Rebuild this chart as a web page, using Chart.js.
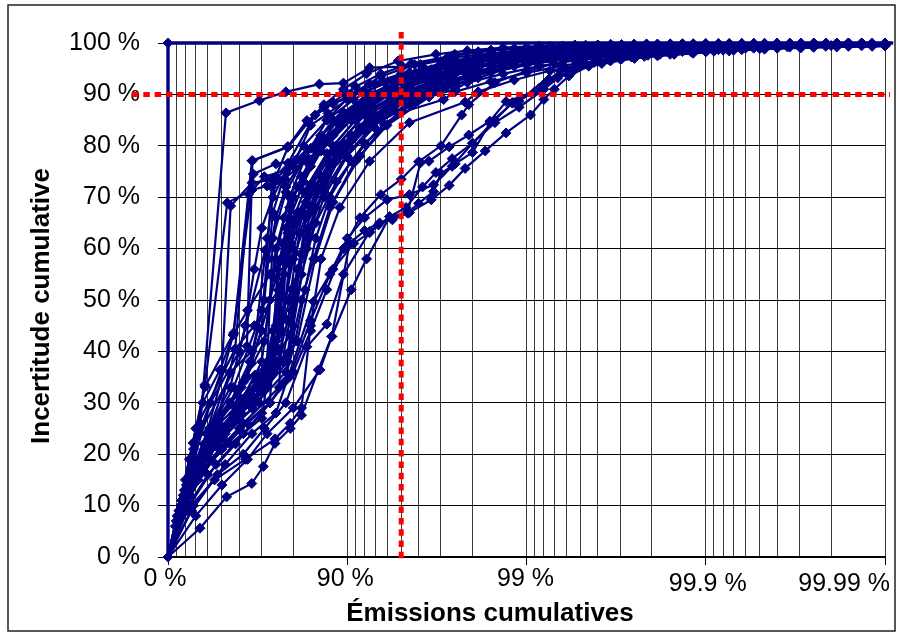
<!DOCTYPE html>
<html>
<head>
<meta charset="utf-8">
<script src="https://cdn.jsdelivr.net/npm/chart.js@4.4.1/dist/chart.umd.min.js"></script>
<style>
html,body{margin:0;padding:0;background:#fff;}
canvas{display:block;}
</style>
</head>
<body>
<canvas id="c" width="898" height="634"></canvas>
<script>
// ---- Data: [cumulative emissions %, cumulative uncertainty %] ----
const xTickValues = [0, 90, 99, 99.9, 99.99];
const xTickLabels = ['0 %', '90 %', '99 %', '99.9 %', '99.99 %'];
const yTitle = 'Incertitude cumulative';
const xTitle = 'Émissions cumulatives';
const refEmission = 95;      // vertical red dotted line
const refUncertainty = 90;   // horizontal red dotted line

// emission positions (%) where the tails of the curves have their points
const tailGridA = [97.49, 98.42, 99.0, 99.37, 99.6, 99.749, 99.842, 99.9, 99.937, 99.96, 99.975, 99.984, 99.99];
const tailGridB = [97.86, 98.65, 99.149, 99.463, 99.661, 99.786, 99.865, 99.915, 99.946, 99.966, 99.9786, 99.9865, 99.99];
const tailGridC = [98.14, 98.83, 99.26, 99.532, 99.705, 99.814, 99.8825, 99.926, 99.953, 99.9705, 99.9814, 99.9882, 99.99];

const idealSeries = [[0,0],[0,100],[99.991,100]];

// heads: [emission %, uncertainty %] ; tails: uncertainty % at the tail grid positions
const headA1 = [[0,0],[34,26],[52.5,86.4],[69,88.8],[78,90.5],[85.7,92],[89.5,92.2],[92.5,95.2],[95.1,95.4],[96.1,95.8]];
const tailA1 = [97.2,98.0,98.6,99.0,99.3,99.5,99.62,99.72,99.8,99.86,99.9,99.93,99.95];
const headA2 = [[0,0],[27.5,22.2],[37.8,33.1],[57,43.6],[66,77.1],[78.5,79.8],[83.2,84.9],[88,88.2],[92,90.6],[95,93.2],[97,95.5]];
const tailA2 = [96.6,97.6,98.3,98.8,99.15,99.4,99.55,99.66,99.75,99.82,99.87,99.9,99.93];
const headA3 = [[0,0],[20,15],[37.8,33.5],[53.3,68.9],[66,71.4],[72,72.2],[77,73.3],[83,77],[88,82],[92.5,88],[95.5,92],[97.5,95]];
const tailA3 = [96.4,97.5,98.3,98.9,99.25,99.45,99.6,99.7,99.78,99.84,99.88,99.91,99.93];
const headA4 = [[0,0],[28,21],[49.9,36.4],[55.3,68.3],[66,72.8],[73.7,73.4],[80,76],[86,81],[91,86],[94.5,90.5],[96.5,93.5]];
const tailA4 = [95.2,96.8,97.8,98.4,98.9,99.2,99.42,99.58,99.68,99.76,99.82,99.86,99.9];
const headA5 = [[0,0],[30,25],[57.8,40.5],[64.5,70.6],[71,74],[77.8,75.2],[84,79.5],[89,84],[93,89],[96,93]];
const tailA5 = [95.8,97.2,98.1,98.7,99.1,99.35,99.52,99.65,99.74,99.8,99.85,99.89,99.92];
const headA6 = [[0,0],[33,24],[63.7,41],[66.2,77.1],[78.5,79.7],[83.5,84.6],[86.5,87.5],[90,89.5],[93,92],[95.5,94.3],[97.5,96.3]];
const tailA6 = [97.4,98.3,98.9,99.3,99.52,99.66,99.76,99.83,99.88,99.92,99.94,99.96,99.97];
const headA7 = [[0,0],[20,13],[42,30],[60,40],[71.3,59.7],[76.9,61],[81,66],[85,72],[89,79],[92.5,85],[95.5,90],[96.9,92.4]];
const tailA7 = [94.0,95.9,97.2,98.0,98.6,99.0,99.3,99.5,99.62,99.72,99.79,99.84,99.88];
const headA8 = [[0,0],[24,19],[36,30],[48.7,36.4],[56.7,43.2],[66.6,74.5],[75,76.5],[80.6,77.2],[86,82],[91,87.5],[94.5,91.8],[97.2,95.2]];
const tailA8 = [96.2,97.6,98.5,99.0,99.3,99.5,99.64,99.74,99.81,99.86,99.9,99.93,99.95];

const headB1 = [[0,0],[15,9],[35,17],[55,22],[70,27],[76,50],[79,66],[84,76],[89,84],[93,90],[96,94],[97.6,96]];
const tailB1 = [97.3,98.2,98.8,99.2,99.45,99.62,99.74,99.82,99.87,99.91,99.93,99.95,99.96];
const headB2 = [[0,0],[20,10],[42,19],[60,25],[73,30],[75.5,56],[80,70],[86,80],[91,87],[94.5,91.5],[96.6,94.6]];
const tailB2 = [96.3,97.7,98.5,99.0,99.35,99.55,99.68,99.77,99.84,99.88,99.91,99.94,99.96];
const headB3 = [[0,0],[12,8],[30,16],[50,24],[65,32],[72,38],[74,62],[78,71],[83,78],[88,85],[92.5,90],[95.5,93.5],[97.2,95.8]];
const tailB3 = [96.9,98.0,98.7,99.15,99.42,99.6,99.72,99.8,99.86,99.9,99.93,99.95,99.96];
const headB4 = [[0,0],[25,12],[48,21],[62,26],[76,33],[78,58],[81,67],[86,74],[90.5,82],[94,88],[96.5,92],[97.9,94.5]];
const tailB4 = [95.6,97.0,98.0,98.6,99.0,99.28,99.48,99.62,99.72,99.8,99.85,99.89,99.92];
const headB5 = [[0,0],[18,11],[38,20],[58,28],[68,34],[77,44],[79.5,61],[84,72],[88.5,80],[92.5,87],[95.5,91.5],[96.9,93.8]];
const tailB5 = [95.5,97.1,98.1,98.7,99.1,99.35,99.52,99.65,99.74,99.8,99.85,99.88,99.91];
const headB6 = [[0,0],[22,14],[45,25],[63,31],[74,37],[76.5,48],[78,64],[82.5,73],[87,81],[91.5,88],[95,92.5],[97.3,95.6]];
const tailB6 = [96.8,98.0,98.75,99.2,99.5,99.66,99.77,99.84,99.89,99.92,99.94,99.96,99.97];
const headB7 = [[0,0],[10,7],[28,15],[47,22],[66,29],[78,36],[80.5,52],[83,66],[87.5,76],[92,84],[95,89.5],[97.3,93.8]];
const tailB7 = [95.2,96.8,97.9,98.55,98.95,99.25,99.45,99.6,99.7,99.78,99.84,99.88,99.91];
const headB8 = [[0,0],[30,16],[52,24],[69,30],[75,42],[77.5,55],[80,70],[85,79],[90,86],[94,91],[96.8,94.5]];
const tailB8 = [96.6,97.9,98.7,99.15,99.45,99.62,99.74,99.82,99.87,99.91,99.94,99.96,99.97];
const headB9 = [[0,0],[16,10],[36,19],[56,26],[71,33],[79,40],[81.5,56],[85,68],[89,78],[92.5,85],[95.5,90.5],[97.3,93.6]];
const tailB9 = [95.0,96.8,97.9,98.6,99.05,99.32,99.5,99.63,99.72,99.79,99.84,99.88,99.91];
const headB10 = [[0,0],[24,13],[44,22],[64,30],[72,36],[76,52],[79,62],[83.5,71],[88,79],[92,86],[95.2,91],[97.6,95]];
const tailB10 = [96.2,97.6,98.5,99.0,99.3,99.5,99.64,99.74,99.81,99.86,99.9,99.93,99.95];
const headB11 = [[0,0],[14,9],[33,18],[54,26],[67,31],[74,36],[77,47],[80,58],[84,68],[88.5,77],[92.5,84],[95.5,89.5],[97,91.5]];
const tailB11 = [92.8,94.6,96.0,97.1,97.8,98.35,98.75,99.05,99.25,99.42,99.53,99.62,99.7];
const headB12 = [[0,0],[20,12],[40,21],[58,27],[70,32],[78.5,38],[82,50],[84.6,58],[87.5,68],[91,77],[94,84],[96.5,89.5],[97.5,91]];
const tailB12 = [92.3,94.0,95.5,96.6,97.3,97.9,98.35,98.7,99.0,99.2,99.35,99.45,99.55];
const headB13 = [[0,0],[26,15],[46,24],[61,30],[70,38],[73,50],[75,58],[77.5,66],[81,72],[86,79],[90.5,85],[94,90],[96.8,94]];
const tailB13 = [96.4,97.8,98.6,99.1,99.4,99.58,99.7,99.79,99.85,99.9,99.93,99.95,99.96];
const headB14 = [[0,0],[11,8],[31,17],[51,23],[65.9,37.7],[75,54.2],[78.5,63],[82.5,71],[87,78.5],[91,85],[94.5,89.5],[96.8,93]];
const tailB14 = [94.8,96.7,97.9,98.6,99.05,99.32,99.5,99.63,99.72,99.79,99.84,99.88,99.91];
const headB15 = [[0,0],[22,13],[43,22],[57.8,40.4],[67,45],[75.8,51.9],[79,60],[83,69],[87.5,77],[91.5,83.5],[94.8,89],[97.3,93.2]];
const tailB15 = [94.6,96.6,97.8,98.5,98.95,99.25,99.45,99.6,99.7,99.77,99.82,99.86,99.89];
const headB16 = [[0,0],[18,12],[37,22],[56.7,43.2],[64,48],[73,55],[76.3,57.5],[81,66],[86,74],[90.5,81],[94,87],[96.8,91.8]];
const tailB16 = [94.4,96.4,97.7,98.45,98.95,99.28,99.5,99.64,99.74,99.81,99.86,99.9,99.92];
const headB17 = [[0,0],[27,14],[49,23],[67.3,35.4],[76,40],[79.2,43.2],[82,55],[85,65],[88.5,73],[92,80.5],[95,86.5],[97.1,89]];
const tailB17 = [90.5,92.5,94.2,95.6,96.6,97.3,97.8,98.3,98.7,99.0,99.2,99.35,99.45];
const headB18 = [[0,0],[15,10],[32,19],[54.9,35.9],[66,40],[75,45],[79.5,52],[83.2,60],[86.5,70],[90,78],[93.5,85],[96.3,90],[97.5,92.4]];
const tailB18 = [93.8,96.0,97.4,98.2,98.75,99.1,99.35,99.52,99.64,99.73,99.8,99.85,99.88];
const headB19 = [[0,0],[21,9],[45,15],[63,19],[74.7,23],[79.2,26],[82,29],[84,45],[86,58],[89,68],[92.5,77],[95.5,84.5],[97.8,88.5]];
const tailB19 = [90.5,92.8,94.6,96.0,96.9,97.5,98.0,98.45,98.8,99.05,99.22,99.35,99.45];

const headD1 = [[0,0],[20,12],[42,22],[60,28],[72,34],[80,45],[83.5,62],[86.5,72],[89.5,79],[92.5,85],[94.8,88.6],[96.2,90.2],[97.2,91.5]];
const tailD1 = [92.6,94.3,95.7,96.8,97.5,98.05,98.5,98.85,99.1,99.3,99.42,99.52,99.6];
const headD2 = [[0,0],[16,11],[39,21],[59,29],[73,36],[81,42],[84.9,58],[88,69],[91.5,78],[93.8,84],[95.8,88.6],[97.4,92]];
const tailD2 = [93.4,95.6,97.1,98.0,98.6,99.0,99.28,99.47,99.6,99.7,99.77,99.82,99.86];
const headD3 = [[0,0],[24,14],[47,24],[65,31],[75,40],[79,50],[81.5,63],[85,71],[88.5,78],[92,83],[94.7,86.5],[96.5,89.5],[97.9,93]];
const tailD3 = [94.2,96.3,97.6,98.4,98.9,99.22,99.45,99.6,99.7,99.78,99.84,99.88,99.91];
const headE1 = [[0,0],[22,14],[45,26],[62,34],[70,44],[73.6,72],[77.8,73.5],[80.5,77],[84,84],[87.2,86.3],[90,89],[92.5,92],[95,94],[97,96]];
const tailE1 = [97.6,98.5,99.05,99.4,99.6,99.73,99.81,99.87,99.91,99.94,99.96,99.97,99.98];
const headE2 = [[0,0],[18,12],[40,24],[57,33],[68,45],[72,62],[75,74],[78.6,79.8],[83.5,84.6],[86.5,88],[89.5,91],[92.2,94],[94.8,96.5],[96.8,97.8]];
const tailE2 = [98.5,99.1,99.42,99.62,99.74,99.82,99.87,99.91,99.935,99.95,99.96,99.97,99.98];
const headE3 = [[0,0],[26,15],[48,26],[64,35],[71,50],[74,67],[78.6,76.6],[84.9,86],[88,88.5],[91,91.5],[93.5,94],[95.6,96],[97.4,97.5]];
const tailE3 = [98.3,98.95,99.35,99.58,99.72,99.81,99.87,99.91,99.94,99.96,99.97,99.98,99.985];
const headF1 = [[0,0],[19,13],[41,25],[61,33],[71,42],[75,60],[79,70],[83,78],[87,85],[90.5,90],[93.5,93.5],[95.8,95.8],[97.2,97.0]];
const tailF1 = [97.8,98.6,99.1,99.42,99.62,99.75,99.83,99.88,99.92,99.94,99.96,99.97,99.98];

const headG1 = [[0,0],[13,9],[29,18],[46,26],[60,31],[70,34],[74,44],[76.5,58],[79,68],[82,74],[85.5,80],[89,85.5],[92,89],[94.6,92.2],[96.6,94.8]];
const tailG1 = [96.2,97.6,98.4,98.95,99.3,99.52,99.66,99.76,99.83,99.88,99.91,99.94,99.96];
const headG2 = [[0,0],[17,10],[35,18],[52,25],[66,30],[73,36],[76,46],[78,57],[80.5,65],[84,72.5],[88,80],[91.5,86],[94.2,90],[96.3,93],[97.5,94.8]];
const tailG2 = [95.9,97.4,98.3,98.85,99.2,99.45,99.6,99.72,99.8,99.86,99.9,99.93,99.95];
const headG3 = [[0,0],[23,13],[41,21],[58,29],[69,35],[75,41],[78,50],[80,60],[82.5,67],[86,74],[89.5,80.5],[92.8,86.5],[95.3,90.5],[97.2,93.4],[98,94.6]];
const tailG3 = [95.6,97.1,98.1,98.7,99.1,99.37,99.55,99.67,99.76,99.83,99.88,99.91,99.93];
const headG4 = [[0,0],[9,6],[24,14],[41,22],[57,28],[68,33],[75.5,38],[78.5,46],[81,56],[83.5,64],[86.5,71],[89.8,78],[92.8,84],[95.2,88.5],[97,91.6]];
const tailG4 = [92.9,95.0,96.5,97.5,98.2,98.7,99.05,99.3,99.48,99.6,99.7,99.77,99.82];
const headG5 = [[0,0],[19,12],[38,22],[55,30],[65,38],[70,48],[72.5,58],[75,66],[78,72],[82,77],[86,82],[89.5,86.5],[92.5,90],[95,93],[97.2,95.6]];
const tailG5 = [96.8,98.0,98.75,99.2,99.5,99.67,99.78,99.85,99.9,99.93,99.95,99.96,99.97];
const headG6 = [[0,0],[14,8],[32,15],[50,21],[64,26],[73,30],[77.5,34],[80.5,42],[82.8,52],[85,62],[87.5,70],[90.5,77],[93.2,83],[95.5,88],[97.5,91.8]];
const tailG6 = [93.2,95.5,97.0,97.9,98.5,98.9,99.18,99.38,99.53,99.64,99.72,99.78,99.83];
const headG7 = [[0,0],[21,14],[39,24],[55,33],[63,45],[67,56],[70,64],[74,70],[78,75],[82.5,80],[87,85],[90.8,89],[93.8,92.3],[96.3,95]];
const tailG7 = [96.5,97.8,98.6,99.1,99.4,99.6,99.72,99.8,99.86,99.9,99.93,99.95,99.96];
const headG8 = [[0,0],[25,14],[44,22],[61,28],[72,33],[77,38],[79.5,48],[81.8,59],[84,67],[87,74],[90.2,80],[93,85.5],[95.4,89.5],[97.3,92.6]];
const tailG8 = [93.8,95.9,97.3,98.2,98.75,99.1,99.35,99.52,99.64,99.73,99.8,99.85,99.88];

// curves with their own full list of points (slow-rising ones)
const seriesC1 = [[0,0],[30,8],[50,14],[64,19],[72,24],[80,29],[85.8,36.4],[87.8,42.9],[90.5,52],[92.2,58],[94.2,66.2],[95.4,66.9],[96,68.8],[96.7,71.1],[97,74.6],[97.5,76.5],[98,78.7],[98.4,84.4],[98.8,88.3],[98.9,88.7],[99.15,91.2],[99.35,94.5],[99.5,95.6],[99.6,96.4],[99.7,96.9],[99.78,97.4],[99.85,97.9],[99.9,98.3],[99.93,98.6],[99.96,99],[99.975,99.2],[99.99,99.4]];
const seriesC2 = [[0,0],[26,9],[47,16],[62,20],[71,25],[78,30],[83.2,40.9],[87,45.3],[89.5,55],[92.5,63.3],[93.3,64.6],[94.3,65.9],[95.4,67.2],[96.1,76.7],[96.5,77],[97.3,79.8],[97.9,82.1],[98.4,84.8],[98.7,88.6],[99.1,90.5],[99.25,93],[99.4,95],[99.52,96],[99.65,96.8],[99.74,97.3],[99.82,97.9],[99.88,98.4],[99.92,98.8],[99.95,99.1],[99.97,99.35],[99.98,99.5],[99.99,99.6]];
const seriesC3 = [[0,0],[33.7,5.6],[52.9,11.7],[65.9,14.3],[70.6,17.6],[74.7,22.1],[79.2,25],[82,27.6],[85.5,36.4],[87.8,42.9],[90.3,61],[92,63.5],[93.4,65],[94.4,65.6],[95.5,67],[96.6,69.5],[97.3,72.3],[97.8,75.6],[98.3,79],[98.7,82.5],[99.05,86],[99.2,89],[99.3,91],[99.42,93.6],[99.55,95.5],[99.66,96.5],[99.75,97.2],[99.82,97.8],[99.88,98.2],[99.92,98.6],[99.95,99],[99.97,99.25],[99.99,99.5]];
const seriesC4 = [[0,0],[28,10],[52,18],[66,24],[75,28],[84.6,49.7],[88,56],[90.8,61],[92.5,63.1],[94.2,66.2],[95.3,68],[96.2,72],[96.8,74.8],[97.4,77.5],[98,80.5],[98.5,84.5],[98.9,87.5],[99.2,91],[99.33,93.2],[99.45,95],[99.58,96.2],[99.7,97],[99.79,97.6],[99.85,98.1],[99.9,98.6],[99.94,99],[99.965,99.25],[99.99,99.5]];
const seriesH1 = [[0,0],[24,10],[46,18],[62,24],[73,30],[80,36],[84,44],[87,52],[89.5,60],[91.5,66],[93.5,70.5],[95,73.5],[96,76.9],[97,80],[97.7,86],[97.9,88],[98.5,92.3],[99.0,94.5],[99.3,96],[99.5,97],[99.65,97.6],[99.78,98.2],[99.86,98.6],[99.92,99],[99.95,99.25],[99.975,99.45],[99.99,99.6]];
const seriesH2 = [[0,0],[20,9],[40,16],[58,22],[70,28],[79,35],[84,46],[87.5,55],[90,62],[92,66],[94,69.5],[95.5,70.5],[96.7,72.4],[97.4,76],[98,80.5],[98.5,85],[98.8,88.4],[99.2,92],[99.45,94.5],[99.62,96],[99.75,97],[99.85,97.8],[99.91,98.4],[99.95,98.9],[99.975,99.2],[99.99,99.45]];

// ---- Build chart ----
const join = (head, grid, tail) => head.concat(grid.map((e, i) => [e, tail[i]]));
const allSeries = [
  join(headA1, tailGridA, tailA1), join(headA2, tailGridB, tailA2), join(headA3, tailGridC, tailA3),
  join(headA4, tailGridA, tailA4), join(headA5, tailGridB, tailA5), join(headA6, tailGridC, tailA6),
  join(headA7, tailGridA, tailA7), join(headA8, tailGridB, tailA8),
  join(headB1, tailGridC, tailB1), join(headB2, tailGridA, tailB2), join(headB3, tailGridB, tailB3),
  join(headB4, tailGridC, tailB4), join(headB5, tailGridA, tailB5), join(headB6, tailGridB, tailB6),
  join(headB7, tailGridC, tailB7), join(headB8, tailGridA, tailB8), join(headB9, tailGridB, tailB9),
  join(headB10, tailGridC, tailB10), join(headB11, tailGridA, tailB11), join(headB12, tailGridB, tailB12),
  join(headB13, tailGridC, tailB13), join(headB14, tailGridA, tailB14), join(headB15, tailGridB, tailB15),
  join(headB16, tailGridC, tailB16), join(headB17, tailGridA, tailB17), join(headB18, tailGridB, tailB18),
  join(headB19, tailGridC, tailB19),
  join(headD1, tailGridA, tailD1), join(headD2, tailGridB, tailD2), join(headD3, tailGridC, tailD3),
  join(headE1, tailGridA, tailE1), join(headE2, tailGridB, tailE2), join(headE3, tailGridC, tailE3),
  join(headF1, tailGridA, tailF1),
  join(headG1, tailGridA, tailG1), join(headG2, tailGridB, tailG2), join(headG3, tailGridC, tailG3),
  join(headG4, tailGridA, tailG4), join(headG5, tailGridB, tailG5), join(headG6, tailGridC, tailG6),
  join(headG7, tailGridA, tailG7), join(headG8, tailGridB, tailG8),
  seriesC1, seriesC2, seriesC3, seriesC4, seriesH1, seriesH2
];

const NAVY = '#000080';
const FONT = '"Liberation Sans", Arial, Helvetica, sans-serif';
const toU = e => (100 - e) / 100;   // remaining share (log axis, reversed)
const toPts = s => s.map(p => ({x: toU(p[0]), y: p[1]}));

const datasets = [];
datasets.push({
  data: toPts(idealSeries), borderColor: NAVY, backgroundColor: NAVY, borderWidth: 3.4,
  pointStyle: 'rectRot', pointRadius: [5, 5, 0], pointBorderWidth: 1, clip: 12
});
allSeries.forEach(s => datasets.push({
  data: toPts(s), borderColor: NAVY, backgroundColor: NAVY, borderWidth: 2.2,
  pointStyle: 'rectRot', pointRadius: 5, pointBorderWidth: 1, tension: 0, clip: 12
}));

const isDecade = v => Math.abs(Math.log10(v) - Math.round(Math.log10(v))) < 1e-9;

const overlay = {
  id: 'overlay',
  afterDatasetsDraw(chart) {
    const ctx = chart.ctx, xs = chart.scales.x, ys = chart.scales.y;
    const px = xs.getPixelForValue(toU(refEmission));
    const py = ys.getPixelForValue(refUncertainty);
    ctx.save();
    ctx.strokeStyle = '#ff0000';
    ctx.lineWidth = 5;
    ctx.setLineDash([6.5, 4.8]);
    ctx.beginPath(); ctx.moveTo(132, py); ctx.lineTo(890, py); ctx.stroke();
    ctx.beginPath(); ctx.moveTo(px, 32); ctx.lineTo(px, 561); ctx.stroke();
    ctx.restore();
  },
  afterDraw(chart) {
    const ctx = chart.ctx, xs = chart.scales.x;
    ctx.save();
    ctx.fillStyle = '#000';
    ctx.font = '25px ' + FONT;
    ctx.textBaseline = 'middle';
    const dx = [-3, -2, -1, 2];
    const dy = [579, 579, 579, 584];
    xTickValues.forEach((e, i) => {
      if (i < 4) {
        ctx.textAlign = 'center';
        ctx.fillText(xTickLabels[i], xs.getPixelForValue(toU(e)) + dx[i], dy[i]);
      } else {
        ctx.textAlign = 'right';
        ctx.fillText(xTickLabels[i], 890, 584);
      }
    });
    ctx.font = 'bold 26px ' + FONT;
    ctx.textAlign = 'center';
    ctx.textBaseline = 'alphabetic';
    ctx.fillText(xTitle, 490, 621);
    ctx.translate(49, 306);
    ctx.rotate(-Math.PI / 2);
    ctx.fillText(yTitle, 0, 0);
    ctx.restore();
    ctx.save();
    ctx.strokeStyle = '#222';
    ctx.lineWidth = 1.5;
    ctx.strokeRect(8, 5, 887, 626);
    ctx.restore();
  }
};

new Chart(document.getElementById('c'), {
  type: 'line',
  data: { datasets },
  options: {
    responsive: false, animation: false, devicePixelRatio: 1,
    layout: { padding: { left: 0, right: 13, top: 43, bottom: 0 } },
    plugins: { legend: { display: false }, tooltip: { enabled: false } },
    elements: { line: { tension: 0 } },
    scales: {
      x: {
        type: 'logarithmic', reverse: true, min: 0.0001, max: 1,
        afterBuildTicks(scale) {
          const t = [];
          for (let n = -4; n <= -1; n++) for (let m = 1; m <= 9; m++) t.push({value: m * Math.pow(10, n)});
          t.push({value: 1});
          scale.ticks = t;
        },
        afterFit(scale) { scale.height = 77; },
        ticks: { display: false, autoSkip: false },
        grid: {
          color: '#3a3a3a', lineWidth: 1, drawTicks: true, tickLength: 8,
          tickColor: c => (c.tick && isDecade(c.tick.value)) ? '#000' : 'rgba(0,0,0,0)'
        },
        border: { color: '#000', width: 1.2 }
      },
      y: {
        type: 'linear', min: 0, max: 100,
        afterFit(scale) { scale.width = 168; },
        ticks: { stepSize: 10, padding: 18, color: '#000', font: { family: FONT, size: 25 },
                 callback: v => v + ' %' },
        grid: { color: '#000', lineWidth: 1, tickLength: 10 },
        border: { color: '#000', width: 1 }
      }
    }
  },
  plugins: [overlay]
});
</script>
</body>
</html>
